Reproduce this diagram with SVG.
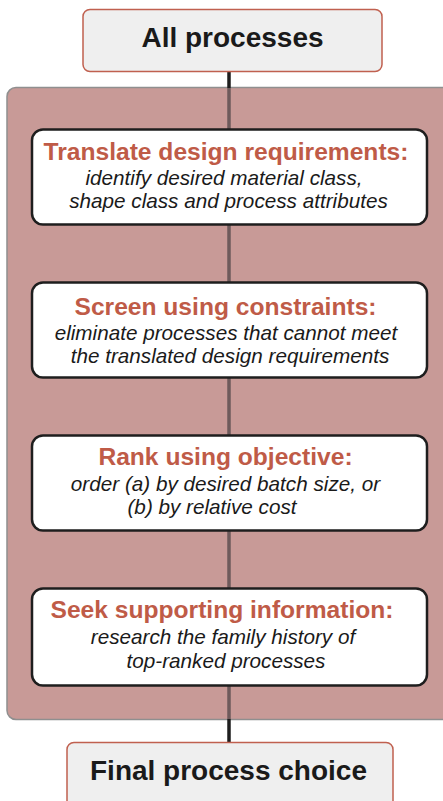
<svg xmlns="http://www.w3.org/2000/svg" width="443" height="801" viewBox="0 0 443 801">
<style>
.term rect{fill:#efefef;stroke:#c0604f;stroke-width:1.5}
.term text{font-family:"Liberation Sans",Arial,sans-serif;font-weight:bold;font-size:28px;fill:#1a1a1a;text-anchor:middle}
.step rect{fill:#ffffff;stroke:#1e1e1e;stroke-width:2.5}
.step .t{font-family:"Liberation Sans",Arial,sans-serif;font-weight:bold;font-size:24.6px;fill:#bf5b47;text-anchor:middle}
.step .d{font-family:"Liberation Sans",Arial,sans-serif;font-style:italic;font-size:20.7px;fill:#1a1a1a;text-anchor:middle}
.out{stroke:#1e1e1e;stroke-width:3.5;fill:none}
.in{stroke:#6e5a5b;stroke-width:3.5;fill:none}
</style>
<rect id="panel" x="7" y="87.5" width="450" height="632" rx="9" fill="#c89a97" stroke="#8f8f8f" stroke-width="1.5"/>
<g id="connectors">
<line class="out" x1="229" y1="72" x2="229" y2="88"/>
<line class="in" x1="229" y1="88" x2="229" y2="129"/>
<line class="in" x1="229" y1="225" x2="229" y2="282"/>
<line class="in" x1="229" y1="378" x2="229" y2="435"/>
<line class="in" x1="229" y1="531" x2="229" y2="588"/>
<line class="in" x1="229" y1="686" x2="229" y2="719"/>
<line class="out" x1="229" y1="719" x2="229" y2="742"/>
</g>
<g id="all" class="term">
<rect x="83" y="9.5" width="299" height="62" rx="7"/>
<text x="232.5" y="47">All processes</text>
</g>
<g id="translate" class="step">
<rect x="32" y="129.5" width="395" height="95" rx="11"/>
<text class="t" x="226" y="160">Translate design requirements:</text>
<text class="d" x="224" y="185">identify desired material class,</text>
<text class="d" x="228.5" y="208">shape class and process attributes</text>
</g>
<g id="screen" class="step">
<rect x="32" y="282.5" width="395" height="95" rx="11"/>
<text class="t" x="225.5" y="315">Screen using constraints:</text>
<text class="d" x="226" y="340">eliminate processes that cannot meet</text>
<text class="d" x="230" y="363">the translated design requirements</text>
</g>
<g id="rank" class="step">
<rect x="32" y="435.5" width="395" height="95" rx="11"/>
<text class="t" x="225.5" y="465">Rank using objective:</text>
<text class="d" x="225.5" y="490.5">order (a) by desired batch size, or</text>
<text class="d" x="212" y="514">(b) by relative cost</text>
</g>
<g id="seek" class="step">
<rect x="32" y="588.5" width="395" height="97" rx="11"/>
<text class="t" x="222" y="618">Seek supporting information:</text>
<text class="d" x="223" y="644">research the family history of</text>
<text class="d" x="226" y="668">top-ranked processes</text>
</g>
<g id="final" class="term">
<rect x="67" y="742.5" width="326" height="70" rx="7"/>
<text x="228.5" y="780">Final process choice</text>
</g>
</svg>
